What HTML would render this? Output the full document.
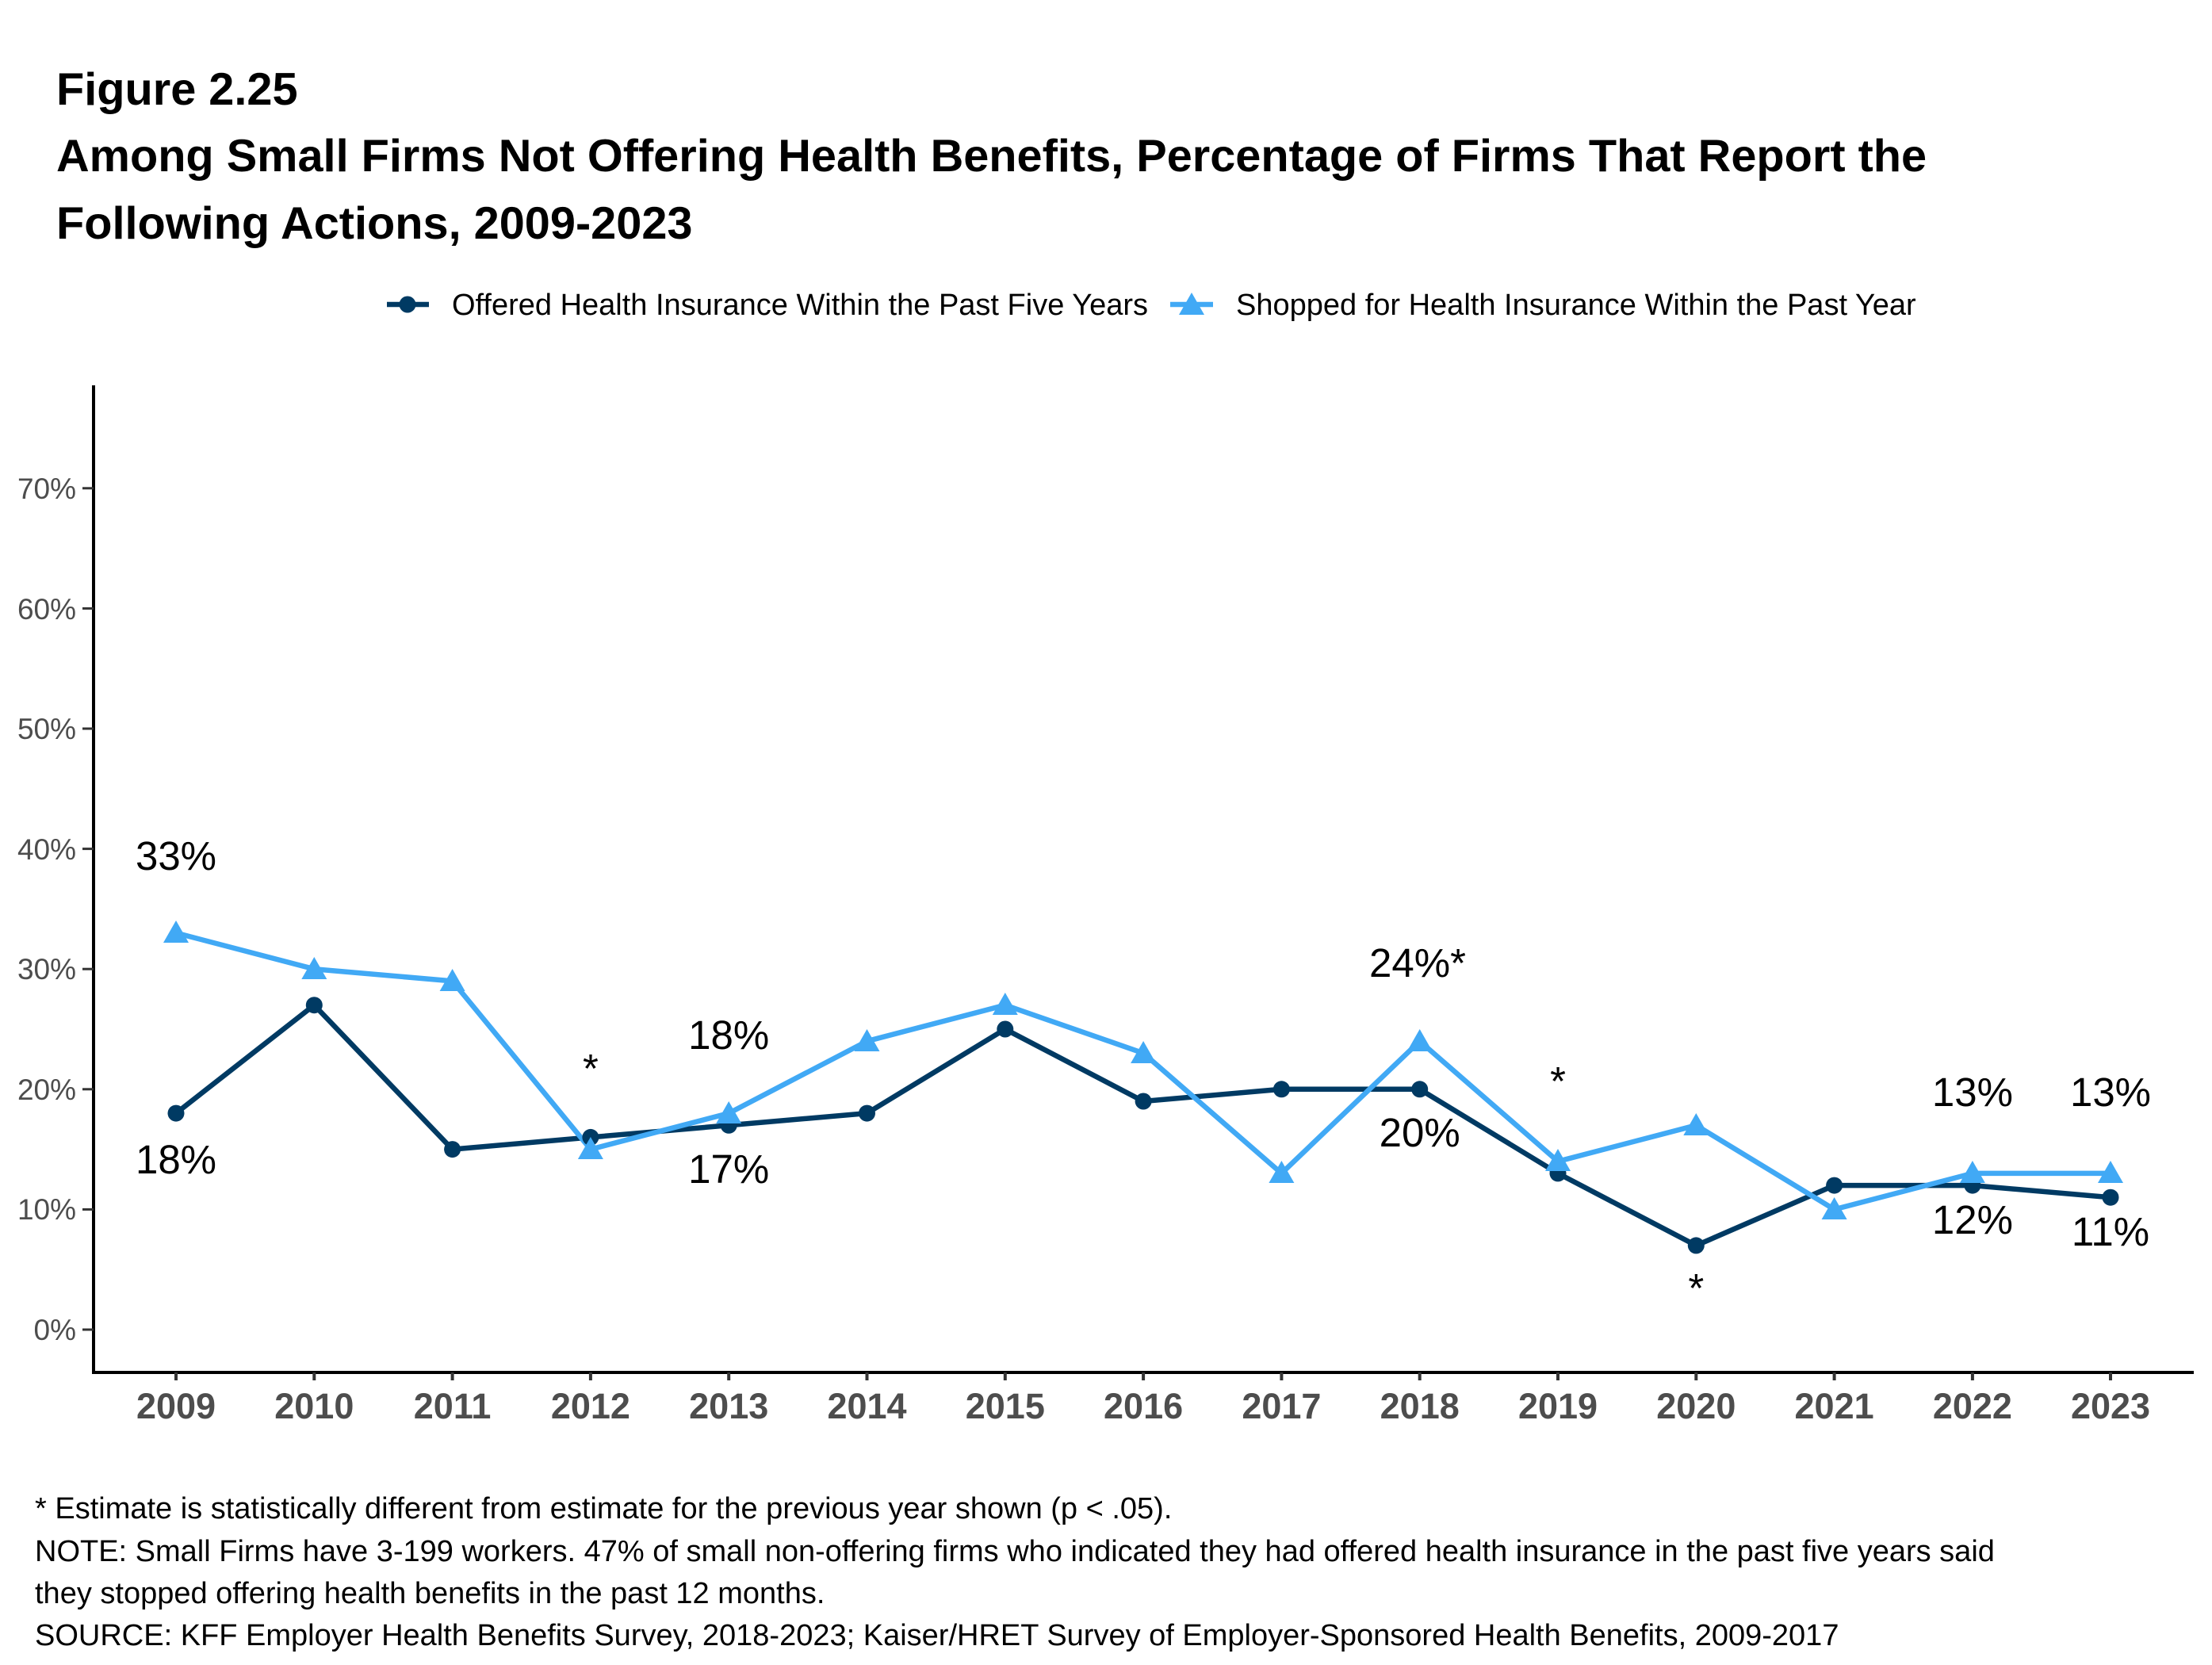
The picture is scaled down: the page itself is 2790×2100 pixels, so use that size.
<!DOCTYPE html>
<html><head><meta charset="utf-8"><style>
html,body{margin:0;padding:0;background:#fff;}
svg{display:block;font-family:"Liberation Sans",Arial,sans-serif;}
</style></head><body>
<svg width="2790" height="2100" viewBox="0 0 2790 2100">
<defs>
<polygon id="tri" points="0,-17 16,11 -16,11" fill="#41a9f5"/>
<circle id="dot" r="10.5" fill="#003a63"/>
</defs>
<g font-weight="bold" font-size="57.7" fill="#000">
<text x="71" y="132">Figure 2.25</text>
<text x="71" y="216">Among Small Firms Not Offering Health Benefits, Percentage of Firms That Report the</text>
<text x="71" y="301">Following Actions, 2009-2023</text>
</g>
<!-- legend -->
<line x1="488" y1="384" x2="541" y2="384" stroke="#003a63" stroke-width="6.5"/>
<use href="#dot" x="514" y="384"/>
<text x="570" y="397" font-size="38" fill="#000">Offered Health Insurance Within the Past Five Years</text>
<line x1="1476" y1="384" x2="1530" y2="384" stroke="#41a9f5" stroke-width="6.5"/>
<use href="#tri" x="1503" y="386"/>
<text x="1559" y="397" font-size="38" fill="#000">Shopped for Health Insurance Within the Past Year</text>
<g transform="translate(0,-5)">
<!-- axes -->
<line x1="118" y1="491" x2="118" y2="1738" stroke="#000" stroke-width="4"/>
<line x1="116" y1="1736" x2="2767" y2="1736" stroke="#000" stroke-width="4"/>
<g stroke="#333" stroke-width="3">
<line x1="104" y1="1682" x2="118" y2="1682"/><line x1="104" y1="1530.4" x2="118" y2="1530.4"/>
<line x1="104" y1="1378.8" x2="118" y2="1378.8"/><line x1="104" y1="1227.2" x2="118" y2="1227.2"/>
<line x1="104" y1="1075.6" x2="118" y2="1075.6"/><line x1="104" y1="924" x2="118" y2="924"/>
<line x1="104" y1="772.4" x2="118" y2="772.4"/><line x1="104" y1="620.8" x2="118" y2="620.8"/>
</g>
<g font-size="37" fill="#4d4d4d" text-anchor="end">
<text x="96" y="1695">0%</text><text x="96" y="1543">10%</text><text x="96" y="1392">20%</text>
<text x="96" y="1240">30%</text><text x="96" y="1089">40%</text><text x="96" y="937">50%</text>
<text x="96" y="786">60%</text><text x="96" y="634">70%</text>
</g>
<g stroke="#333" stroke-width="4">
<line x1="222" y1="1736" x2="222" y2="1746"/><line x1="396.3" y1="1736" x2="396.3" y2="1746"/>
<line x1="570.6" y1="1736" x2="570.6" y2="1746"/><line x1="744.9" y1="1736" x2="744.9" y2="1746"/>
<line x1="919.2" y1="1736" x2="919.2" y2="1746"/><line x1="1093.5" y1="1736" x2="1093.5" y2="1746"/>
<line x1="1267.8" y1="1736" x2="1267.8" y2="1746"/><line x1="1442.1" y1="1736" x2="1442.1" y2="1746"/>
<line x1="1616.4" y1="1736" x2="1616.4" y2="1746"/><line x1="1790.7" y1="1736" x2="1790.7" y2="1746"/>
<line x1="1965" y1="1736" x2="1965" y2="1746"/><line x1="2139.3" y1="1736" x2="2139.3" y2="1746"/>
<line x1="2313.6" y1="1736" x2="2313.6" y2="1746"/><line x1="2487.9" y1="1736" x2="2487.9" y2="1746"/>
<line x1="2662" y1="1736" x2="2662" y2="1746"/>
</g>
<!-- series -->
<polyline fill="none" stroke="#003a63" stroke-width="6.5" stroke-linejoin="round" points="222,1409.1 396.3,1272.7 570.6,1454.6 744.9,1439.4 919.2,1424.3 1093.5,1409.1 1267.8,1303 1442.1,1394 1616.4,1378.8 1790.7,1378.8 1965,1484.9 2139.3,1575.9 2313.6,1500.1 2487.9,1500.1 2662,1515.2"/>
<polyline fill="none" stroke="#41a9f5" stroke-width="6.5" stroke-linejoin="round" points="222,1181.7 396.3,1227.2 570.6,1242.4 744.9,1454.6 919.2,1409.1 1093.5,1318.2 1267.8,1272.7 1442.1,1333.3 1616.4,1484.9 1790.7,1318.2 1965,1469.8 2139.3,1424.3 2313.6,1530.4 2487.9,1484.9 2662,1484.9"/>
<use href="#dot" x="222" y="1409.1"/><use href="#dot" x="396.3" y="1272.7"/><use href="#dot" x="570.6" y="1454.6"/>
<use href="#dot" x="744.9" y="1439.4"/><use href="#dot" x="919.2" y="1424.3"/><use href="#dot" x="1093.5" y="1409.1"/>
<use href="#dot" x="1267.8" y="1303"/><use href="#dot" x="1442.1" y="1394"/><use href="#dot" x="1616.4" y="1378.8"/>
<use href="#dot" x="1790.7" y="1378.8"/><use href="#dot" x="1965" y="1484.9"/><use href="#dot" x="2139.3" y="1575.9"/>
<use href="#dot" x="2313.6" y="1500.1"/><use href="#dot" x="2487.9" y="1500.1"/><use href="#dot" x="2662" y="1515.2"/>
<use href="#tri" x="222" y="1183"/><use href="#tri" x="396.3" y="1229"/><use href="#tri" x="570.6" y="1244"/>
<use href="#tri" x="744.9" y="1456"/><use href="#tri" x="919.2" y="1411"/><use href="#tri" x="1093.5" y="1320"/>
<use href="#tri" x="1267.8" y="1274"/><use href="#tri" x="1442.1" y="1335"/><use href="#tri" x="1616.4" y="1486"/>
<use href="#tri" x="1790.7" y="1320"/><use href="#tri" x="1965" y="1471"/><use href="#tri" x="2139.3" y="1426"/>
<use href="#tri" x="2313.6" y="1532"/><use href="#tri" x="2487.9" y="1486"/><use href="#tri" x="2662" y="1486"/>
<!-- data labels -->
<g font-size="51" fill="#000" text-anchor="middle">
<text x="222" y="1102">33%</text>
<text x="222" y="1485">18%</text>
<text x="744.9" y="1370">*</text>
<text x="919.2" y="1328">18%</text>
<text x="919.2" y="1497">17%</text>
<text x="1790.7" y="1451">20%</text>
<text x="1965" y="1386">*</text>
<text x="2139.3" y="1647">*</text>
<text x="2487.9" y="1400">13%</text>
<text x="2662" y="1400">13%</text>
<text x="2487.9" y="1561">12%</text>
<text x="2662" y="1576">11%</text>
</g>
<text x="1727" y="1237" font-size="51" fill="#000">24%*</text>
</g>
<g font-size="45" font-weight="bold" fill="#4d4d4d" text-anchor="middle">
<text x="222" y="1789">2009</text><text x="396.3" y="1789">2010</text><text x="570.6" y="1789">2011</text>
<text x="744.9" y="1789">2012</text><text x="919.2" y="1789">2013</text><text x="1093.5" y="1789">2014</text>
<text x="1267.8" y="1789">2015</text><text x="1442.1" y="1789">2016</text><text x="1616.4" y="1789">2017</text>
<text x="1790.7" y="1789">2018</text><text x="1965" y="1789">2019</text><text x="2139.3" y="1789">2020</text>
<text x="2313.6" y="1789">2021</text><text x="2487.9" y="1789">2022</text><text x="2662" y="1789">2023</text>
</g>
<!-- footnotes -->
<g font-size="38" fill="#000">
<text x="44" y="1915">* Estimate is statistically different from estimate for the previous year shown (p &lt; .05).</text>
<text x="44" y="1969">NOTE: Small Firms have 3-199 workers. 47% of small non-offering firms who indicated they had offered health insurance in the past five years said</text>
<text x="44" y="2022">they stopped offering health benefits in the past 12 months.</text>
<text x="44" y="2075">SOURCE: KFF Employer Health Benefits Survey, 2018-2023; Kaiser/HRET Survey of Employer-Sponsored Health Benefits, 2009-2017</text>
</g>
</svg>
</body></html>
